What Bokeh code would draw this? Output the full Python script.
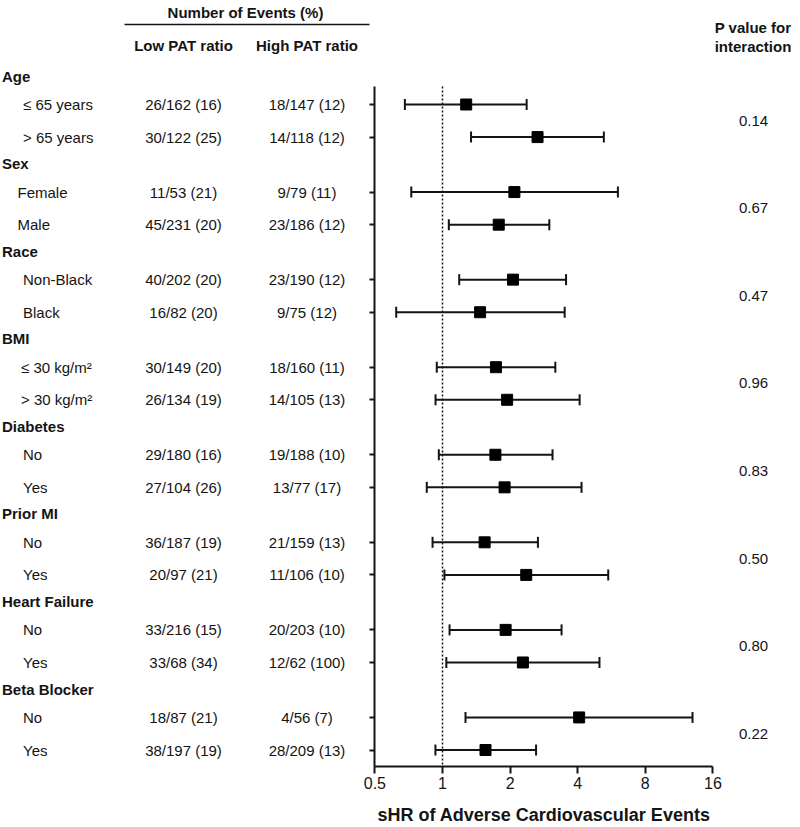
import math
from bokeh.plotting import figure
from bokeh.models import (Range1d, LinearScale, LinearAxis, LogAxis, FixedTicker,
                          CustomJSTickFormatter, ColumnDataSource, Whisker, TeeHead)
from bokeh.core.properties import value
from bokeh.embed import file_html
from bokeh.resources import INLINE

# ---------------- data ----------------
groups = ["Age", "Sex", "Race", "BMI", "Diabetes", "Prior MI", "Heart Failure", "Beta Blocker"]
subgroups = ["≤ 65 years", "> 65 years", "Female", "Male", "Non-Black", "Black",
             "≤ 30 kg/m²", "> 30 kg/m²", "No", "Yes", "No", "Yes", "No", "Yes", "No", "Yes"]
low_events = ["26/162 (16)", "30/122 (25)", "11/53 (21)", "45/231 (20)", "40/202 (20)", "16/82 (20)",
              "30/149 (20)", "26/134 (19)", "29/180 (16)", "27/104 (26)", "36/187 (19)", "20/97 (21)",
              "33/216 (15)", "33/68 (34)", "18/87 (21)", "38/197 (19)"]
high_events = ["18/147 (12)", "14/118 (12)", "9/79 (11)", "23/186 (12)", "23/190 (12)", "9/75 (12)",
               "18/160 (11)", "14/105 (13)", "19/188 (10)", "13/77 (17)", "21/159 (13)", "11/106 (10)",
               "20/203 (10)", "12/62 (100)", "4/56 (7)", "28/209 (13)"]
shr = [1.275, 2.65, 2.09, 1.78, 2.06, 1.47, 1.73, 1.94, 1.72, 1.89, 1.54, 2.36, 1.91, 2.28, 4.06, 1.554]
ci_low = [0.68, 1.34, 0.726, 1.067, 1.187, 0.622, 0.943, 0.931, 0.963, 0.851, 0.903, 1.02, 1.075, 1.04, 1.266, 0.93]
ci_high = [2.37, 5.23, 6.04, 2.99, 3.55, 3.50, 3.18, 4.08, 3.09, 4.16, 2.66, 5.47, 3.39, 5.0, 12.98, 2.61]
p_values = ["0.14", "0.67", "0.47", "0.96", "0.83", "0.50", "0.80", "0.22"]
x_ticks = [0.5, 1, 2, 4, 8, 16]

# ---------------- layout constants ----------------
W, H = 800, 827
FONT = value("Liberation Sans")
INK = "#141414"
G = 2.686            # group period in row units
PX_PER_ROW = 32.6    # row unit in pixels
Y0_PX = 104          # page pixel of first row
LOG_PX = 67.6        # pixels per doubling
ONE_PX = 442         # page pixel of HR = 1

def u_of(px):
    return (px - Y0_PX) / PX_PER_ROW

def v_of(px):
    return 2 ** ((px - ONE_PX) / LOG_PX)

row_y = [g * G + w for g in range(len(groups)) for w in (0, 1)]
head_y = [g * G - 0.87 for g in range(len(groups))]
pval_y = [g * G + 0.5 for g in range(len(groups))]
indent = [22.5, 22.5, 17, 17, 22.5, 22.5, 20.5, 20.5] + [22.5] * 8

axis_u = u_of(766)
spine_top = u_of(86)

p = figure(width=W, height=H, x_axis_type="log",
           x_range=Range1d(v_of(0), v_of(W)),
           y_range=Range1d(u_of(H), u_of(0)),
           x_axis_location=None, y_axis_location=None,
           toolbar_location=None, output_backend="svg",
           min_border=0, outline_line_color=None)
p.extra_x_ranges = {"px": Range1d(0, W)}
p.extra_x_scales = {"px": LinearScale()}
p.xgrid.visible = False
p.ygrid.visible = False

def txt(x, y, t, align="left", bold=False, size="15px", baseline="middle"):
    p.text(x=x, y=y, text=t, x_range_name="px", text_font=FONT, text_font_size=size,
           text_font_style="bold" if bold else "normal", text_align=align,
           text_baseline=baseline, text_color=INK)

# headers
txt([245], [u_of(12)], ["Number of Events (%)"], align="center", bold=True)
p.segment(x0=[124], x1=[369], y0=[u_of(24)], y1=[u_of(24)], x_range_name="px",
          line_color=INK, line_width=1.6)
txt([183, 306.5], [u_of(45)] * 2, ["Low PAT ratio", "High PAT ratio"], align="center", bold=True)
txt([752.5, 752.5], [u_of(27), u_of(46)], ["P value for", "interaction"], align="center", bold=True)

# group labels and rows
txt([1.5] * len(groups), head_y, groups, bold=True)
txt(indent, row_y, subgroups)
txt([183] * len(row_y), row_y, low_events, align="center")
txt([306.5] * len(row_y), row_y, high_events, align="center")
txt([753] * len(p_values), pval_y, p_values, align="center")

# reference line at HR = 1
p.segment(x0=[1], x1=[1], y0=[spine_top], y1=[axis_u], line_color=INK,
          line_width=1.5, line_dash="2 2")

src = ColumnDataSource(dict(y=row_y, shr=shr, lo=ci_low, hi=ci_high))
wh = Whisker(source=src, base="y", lower="lo", upper="hi", dimension="width",
             line_color=INK, line_width=2,
             lower_head=TeeHead(size=11, line_color=INK, line_width=2),
             upper_head=TeeHead(size=11, line_color=INK, line_width=2))
p.add_layout(wh)
p.scatter(x="shr", y="y", source=src, marker="square", size=11, color="black")

# axes
yax = LinearAxis(fixed_location=0.5, bounds=(spine_top, axis_u),
                 ticker=FixedTicker(ticks=row_y, minor_ticks=[]),
                 formatter=CustomJSTickFormatter(code="return ''"),
                 major_tick_out=5, major_tick_in=0, minor_tick_out=0, minor_tick_in=0,
                 axis_line_width=2,
                 axis_line_color=INK, major_tick_line_width=2, major_tick_line_color=INK)
p.add_layout(yax, "left")

xax = LogAxis(fixed_location=axis_u, bounds=(0.5, 16),
              ticker=FixedTicker(ticks=x_ticks, minor_ticks=[]),
              formatter=CustomJSTickFormatter(code="return tick.toString()"),
              major_tick_out=7, major_tick_in=0, minor_tick_out=0, minor_tick_in=0,
              major_label_text_font_size="16px", major_label_standoff=3,
              major_label_text_font="Liberation Sans", major_label_text_color=INK,
              axis_line_width=2, axis_line_color=INK,
              major_tick_line_width=2, major_tick_line_color=INK)
p.add_layout(xax, "below")

txt([543.5], [u_of(814)], ["sHR of Adverse Cardiovascular Events"], align="center",
    bold=True, size="18px")

open("out.html", "w").write(file_html(p, INLINE))
